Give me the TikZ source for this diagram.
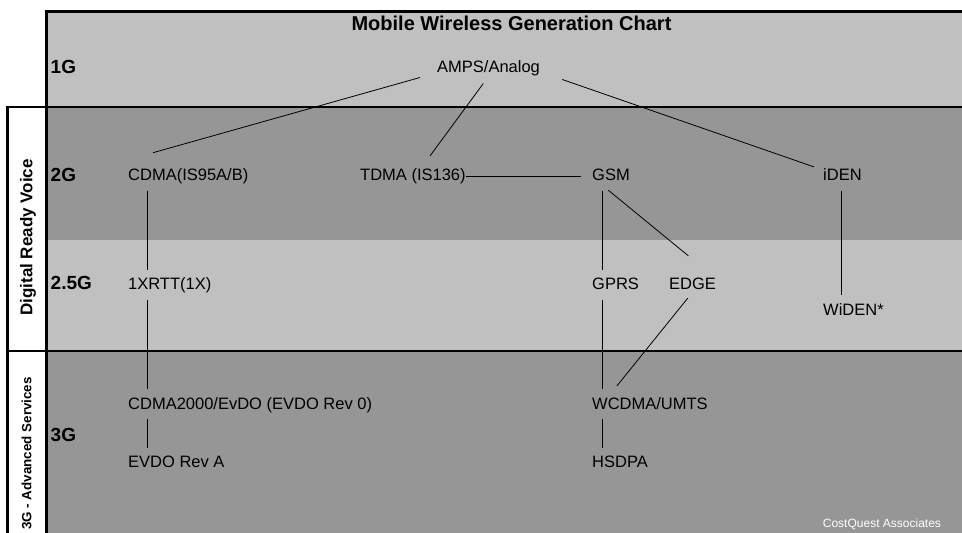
\documentclass[tikz,border=0pt]{standalone}
\usepackage{fontspec}
\setmainfont{Liberation Sans}
\usetikzlibrary{positioning,calc}
\definecolor{bandlight}{HTML}{C0C0C0}
\definecolor{banddark}{HTML}{969696}
\tikzset{
  band light/.style={fill=bandlight,draw=none},
  band dark/.style={fill=banddark,draw=none},
  bold rule/.style={line width=2.6pt},
  tech/.style={anchor=base west,inner sep=0pt,text height=12pt,text depth=3.5pt,
    font=\fontsize{16.5}{18}\selectfont},
  gen/.style={anchor=base west,inner sep=0pt,font=\bfseries\fontsize{19}{21}\selectfont},
  era/.style={rotate=90,inner sep=0pt},
  techlink/.style={line width=0.8pt},
  vlink/.style={techlink,shorten <=6pt,shorten >=8pt}
}

\begin{document}
\begin{tikzpicture}[x=1pt,y=-1pt]
  \useasboundingbox (0,0) rectangle (962,533);
  \fill[white] (0,0) rectangle (962,533);
  % generation bands
  \path[band light] (46.7,11.7) rectangle (962,107);
  \path[band dark] (46.7,107) rectangle (962,240);
  \path[band light] (46.7,240) rectangle (962,351);
  \path[band dark] (46.7,351) rectangle (962,533);
  % frame
  \draw[bold rule] (962,11.7) -- (46.7,11.7) -- (46.7,533);
  \draw[bold rule] (962,107) -- (7.3,107) -- (7.3,533);
  \draw[bold rule] (7.3,351) -- (962,351);

  \node[anchor=base,inner sep=0pt,font=\bfseries\fontsize{20}{22}\selectfont] (title) at (511.5,30.5) {Mobile Wireless Generation Chart};

  \node[era,font=\bfseries\fontsize{17}{19}\selectfont] (voice) at (28,237.5) {Digital Ready Voice};
  \node[era,font=\bfseries\fontsize{13.4}{15}\selectfont] (adv) at (26.7,453.5) {3G - Advanced Services};

  \node[gen] (g1) at (50.5,73.5) {1G};
  \node[gen] (g2) at (50.5,181.8) {2G};
  \node[gen] (g25) at (50.5,289.8) {2.5G};
  \node[gen] (g3) at (50.5,441.8) {3G};

  % technologies
  \node[tech] (amps) at (437,72.6) {AMPS/Analog};
  \node[tech] (cdma) at (128,180.9) {CDMA(IS95A/B)};
  \node[tech] (tdma) at (360,180.9) {TDMA (IS136)};
  \node[tech] (gsm) at (592,180.9) {GSM};
  \node[tech] (iden) at (823,180.9) {iDEN};
  \node[tech] (xrtt) at (128,289.9) {1XRTT(1X)};
  \node[tech] (gprs) at (592,289.9) {GPRS};
  \node[tech] (edge) at (669,289.9) {EDGE};
  \node[tech] (widen) at (823,315.2) {WiDEN*};
  \node[tech] (cdmak) at (128,409.4) {CDMA2000/EvDO (EVDO Rev 0)};
  \node[tech] (wcdma) at (592,409.4) {WCDMA/UMTS};
  \node[tech] (evdoa) at (128,467.9) {EVDO Rev A};
  \node[tech] (hsdpa) at (592,467.9) {HSDPA};

  \node[tech,text=white,font=\fontsize{12}{14}\selectfont] (costq) at (822.7,527) {CostQuest Associates};

  % evolution paths
  \draw[techlink] ([xshift=-17pt,yshift=-1.2pt]amps.south west) -- ([xshift=25pt,yshift=16pt]cdma.north west);
  \draw[techlink] ([xshift=46.3pt,yshift=-7.2pt]amps.south west) -- ([xshift=70pt,yshift=12.8pt]tdma.north west);
  \draw[techlink] ([xshift=125.3pt,yshift=-3.2pt]amps.south west) -- ([xshift=-9pt,yshift=1.8pt]iden.north west);
  \draw[techlink,shorten >=11pt] (tdma.east) -- (gsm.west);
  \draw[vlink] ([xshift=19pt]cdma.south west) -- ([xshift=19pt]xrtt.north west);
  \draw[vlink] ([xshift=19pt]xrtt.south west) -- ([xshift=19pt]cdmak.north west);
  \draw[vlink] ([xshift=19pt]cdmak.south west) -- ([xshift=19pt]evdoa.north west);
  \draw[vlink] ([xshift=10.7pt]gsm.south west) -- ([xshift=10.7pt]gprs.north west);
  \draw[vlink] ([xshift=10.7pt]gprs.south west) -- ([xshift=10.7pt]wcdma.north west);
  \draw[vlink] ([xshift=10.7pt]wcdma.south west) -- ([xshift=10.7pt]hsdpa.north west);
  \draw[techlink] ([xshift=16.3pt,yshift=-5.6pt]gsm.south west) -- ([xshift=19.3pt,yshift=21.9pt]edge.north west);
  \draw[techlink] ([xshift=18.7pt,yshift=-4.6pt]edge.south west) -- ([xshift=25pt,yshift=11.4pt]wcdma.north west);
  \draw[vlink] ([xshift=18.5pt]iden.south west) -- ([xshift=18.5pt]widen.north west);
\end{tikzpicture}
\end{document}
